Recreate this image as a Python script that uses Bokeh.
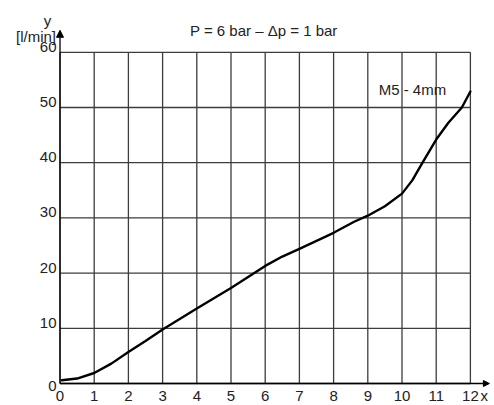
from bokeh.plotting import figure
from bokeh.models import Range1d, Label, LabelSet, ColumnDataSource, Arrow, NormalHead
from bokeh.core.properties import value
from bokeh.embed import file_html
from bokeh.resources import INLINE

# ---- data ----
x_ticks = [0, 1, 2, 3, 4, 5, 6, 7, 8, 9, 10, 11, 12]
y_ticks = [0, 10, 20, 30, 40, 50, 60]
x_tick_labels = [str(v) for v in x_ticks]
y_tick_labels = [str(v) for v in y_ticks]

flow_x = [0.05, 0.5, 1.0, 1.5, 2.0, 2.5, 3.0, 3.5, 4.0, 5.0, 5.5, 6.0, 6.5, 7.0, 8.0,
          8.6, 9.0, 9.5, 10.0, 10.3, 10.6, 11.0, 11.35, 11.75, 12.0]
flow_y = [0.6, 0.9, 1.9, 3.6, 5.7, 7.7, 9.8, 11.7, 13.6, 17.3, 19.3, 21.3, 23.0, 24.4, 27.3,
          29.3, 30.4, 32.1, 34.4, 36.8, 40.0, 44.2, 47.2, 50.0, 52.9]

title_text = "P = 6 bar \u2013 \u0394p = 1 bar"
series_name = "M5 - 4mm"
x_name = "x"
y_name = "y"
y_unit = "[l/min]"

# ---- layout ----
W, H = 494, 405
X0, SX = 59.5, 34.2    # canvas px of x=0, px per x unit
Y0, SY = 383.0, 5.52   # canvas px of y=0, px per y unit
FONT = "Liberation Sans"
TXT = "#222222"
GRID = "#3c3c3c"

p = figure(width=W, height=H, output_backend="svg", toolbar_location=None,
           x_range=Range1d(-X0 / SX, (W - X0) / SX),
           y_range=Range1d(-(H - Y0) / SY, Y0 / SY),
           x_axis_location=None, y_axis_location=None, min_border=0)
p.outline_line_color = None
p.xgrid.visible = False
p.ygrid.visible = False
p.background_fill_color = "white"
p.border_fill_color = "white"

xmin, xmax = min(x_ticks), max(x_ticks)
ymin, ymax = min(y_ticks), max(y_ticks)

# grid
p.segment(x0=x_ticks, y0=[ymin] * len(x_ticks), x1=x_ticks, y1=[ymax] * len(x_ticks),
          line_color=GRID, line_width=1.3)
p.segment(x0=[xmin] * len(y_ticks), y0=y_ticks, x1=[xmax] * len(y_ticks), y1=y_ticks,
          line_color=GRID, line_width=1.3)

# axes with arrows
p.add_layout(Arrow(x_start=xmin, y_start=ymin, x_end=xmin, y_end=ymax + 22 / SY,
                   line_color="black", line_width=1.3,
                   end=NormalHead(size=7, fill_color="black", line_color="black", line_width=1)))
p.add_layout(Arrow(x_start=xmin, y_start=ymin, x_end=xmax + 19 / SX, y_end=ymin,
                   line_color="black", line_width=1.3,
                   end=NormalHead(size=6, fill_color="black", line_color="black", line_width=1)))

# curve
p.line(flow_x, flow_y, line_color="black", line_width=2.4, line_join="round", line_cap="round")

# tick labels
LBL_DY = -17.5
xsrc = ColumnDataSource(dict(x=x_ticks, y=[ymin] * len(x_ticks), text=x_tick_labels))
p.add_layout(LabelSet(x="x", y="y", text="text", source=xsrc, text_align="center",
                      text_baseline="alphabetic", y_offset=LBL_DY,
                      text_font=value(FONT), text_font_size=value("15px"),
                      text_color=value(TXT)))
ysrc = ColumnDataSource(dict(x=[xmin] * len(y_ticks), y=y_ticks, text=y_tick_labels,
                             yo=[-7.5 if v == ymin else 0.5 for v in y_ticks]))
p.add_layout(LabelSet(x="x", y="y", text="text", source=ysrc, text_align="right",
                      text_baseline="alphabetic", x_offset=-3.5, y_offset="yo",
                      text_font=value(FONT), text_font_size=value("15px"),
                      text_color=value(TXT)))

# x axis name as its own label set, on the tick-label row
nsrc = ColumnDataSource(dict(x=[xmax], y=[ymin], text=[x_name]))
p.add_layout(LabelSet(x="x", y="y", text="text", source=nsrc, text_align="left",
                      text_baseline="alphabetic", x_offset=10, y_offset=LBL_DY,
                      text_font=value(FONT), text_font_size=value("15px"),
                      text_color=value(TXT)))

# axis names, title, series label
common = dict(text_font=FONT, text_font_size="15px", text_color=TXT, text_baseline="alphabetic")
p.add_layout(Label(x=xmin, y=ymax, x_offset=-12.5, y_offset=31.8, text=y_name, text_align="center", **common))
p.add_layout(Label(x=xmin, y=ymax, x_offset=-4, y_offset=16.3, text=y_unit, text_align="right", **common))
p.add_layout(Label(x=(xmin + xmax) / 2, y=ymax, x_offset=-1.4, y_offset=22.3, text=title_text,
                   text_align="center", **common))
p.add_layout(Label(x=xmax, y=ymax, x_offset=-24.2, y_offset=-37.5, text=series_name,
                   text_align="right", **common))

open("out.html", "w").write(file_html(p, INLINE))
